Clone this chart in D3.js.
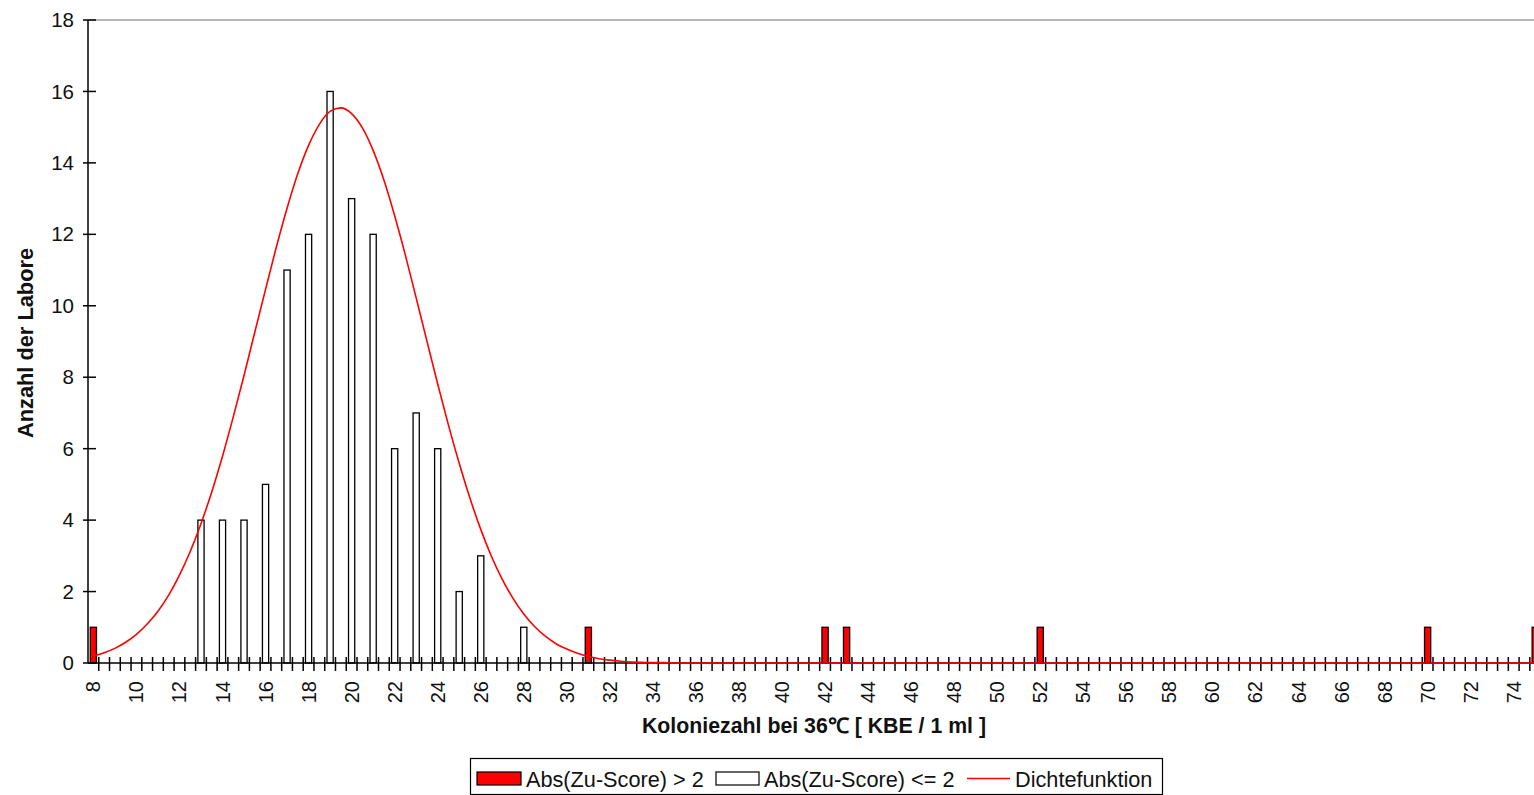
<!DOCTYPE html>
<html>
<head>
<meta charset="utf-8">
<script src="https://cdn.jsdelivr.net/npm/d3@7"></script>
<style>
  html, body { margin: 0; padding: 0; background: #fff; }
  svg { display: block; font-family: "Liberation Sans", Arial, sans-serif; }
</style>
</head>
<body>
<svg id="chart" width="1534" height="795"></svg>
<script>
// Laboratories with |z-score| <= 2 (white bars)
const okValues = [13, 14, 15, 16, 17, 18, 19, 20, 21, 22, 23, 24, 25, 26, 28];
const okCounts = [4, 4, 4, 5, 11, 12, 16, 13, 12, 6, 7, 6, 2, 3, 1];

// Laboratories with |z-score| > 2 (red bars)
const outValues = [8, 31, 42, 43, 52, 70, 75];
const outCounts = [1, 1, 1, 1, 1, 1, 1];

// Density curve, sampled every half unit
const densityX = [8, 8.5, 9, 9.5, 10, 10.5, 11, 11.5, 12, 12.5, 13, 13.5, 14, 14.5, 15, 15.5,
  16, 16.5, 17, 17.5, 18, 18.5, 19, 19.5, 20, 20.5, 21, 21.5, 22, 22.5, 23, 23.5, 24, 24.5,
  25, 25.5, 26, 26.5, 27, 27.5, 28, 28.5, 29, 29.5, 30, 30.5, 31, 31.5, 32, 32.5, 33, 33.5,
  34, 34.5, 35, 35.5, 36, 40, 50, 60, 70, 75];
const densityY = [0.20, 0.29, 0.41, 0.58, 0.80, 1.09, 1.45, 1.90, 2.46, 3.12, 3.90, 4.79, 5.79, 6.89, 8.05, 9.26,
  10.46, 11.64, 12.73, 13.70, 14.49, 15.08, 15.44, 15.54, 15.38, 14.98, 14.35, 13.52, 12.52, 11.41, 10.22, 9.01, 7.81, 6.66,
  5.59, 4.61, 3.74, 2.98, 2.34, 1.81, 1.37, 1.02, 0.75, 0.54, 0.39, 0.27, 0.18, 0.12, 0.08, 0.05, 0.03, 0.02,
  0.01, 0.01, 0.0, 0.0, 0.0, 0.0, 0.0, 0.0, 0.0, 0.0];

// Axis labels
const xTickLabels = [8, 10, 12, 14, 16, 18, 20, 22, 24, 26, 28, 30, 32, 34, 36, 38, 40, 42, 44, 46, 48,
  50, 52, 54, 56, 58, 60, 62, 64, 66, 68, 70, 72, 74];
const yTickLabels = [0, 2, 4, 6, 8, 10, 12, 14, 16, 18];

const xTitle = "Koloniezahl bei 36\u2103 [ KBE / 1 ml ]";
const yTitle = "Anzahl der Labore";
const legendLabels = ["Abs(Zu-Score) > 2", "Abs(Zu-Score) <= 2", "Dichtefunktion"];

const svg = d3.select("#chart");
const plot = { left: 88, top: 20, bottom: 663, right: 1540.6 };

const x = d3.scaleLinear().domain([7.75, 75.25]).range([plot.left, plot.right]);
const y = d3.scaleLinear().domain([0, 18]).range([plot.bottom, plot.top]);
const barW = 6.2;

// plot area top border
svg.append("line")
  .attr("x1", plot.left).attr("x2", 1534)
  .attr("y1", plot.top).attr("y2", plot.top)
  .attr("stroke", "#a0a0a0").attr("stroke-width", 1.5);

// bars
const okData = okValues.map((v, i) => ({ v, c: okCounts[i] }));
const outData = outValues.map((v, i) => ({ v, c: outCounts[i] }));

svg.append("g").selectAll("rect").data(okData).join("rect")
  .attr("x", d => x(d.v) - barW / 2)
  .attr("y", d => y(d.c))
  .attr("width", barW)
  .attr("height", d => y(0) - y(d.c))
  .attr("fill", "#fff").attr("stroke", "#000").attr("stroke-width", 1.3);

svg.append("g").selectAll("rect").data(outData).join("rect")
  .attr("x", d => x(d.v) - barW / 2)
  .attr("y", d => y(d.c))
  .attr("width", barW)
  .attr("height", d => y(0) - y(d.c))
  .attr("fill", "#ff0000").attr("stroke", "#000").attr("stroke-width", 1.3);

// y axis
const yAxis = d3.axisLeft(y).tickValues(yTickLabels).tickSize(0).tickPadding(14);
const yg = svg.append("g").attr("transform", `translate(${plot.left},0)`).call(yAxis);
yg.select(".domain").remove();
yg.selectAll("text").attr("font-size", 20.5).attr("fill", "#111").attr("font-family", null);
yg.append("line").attr("x1", 0).attr("x2", 0).attr("y1", plot.top).attr("y2", plot.bottom)
  .attr("stroke", "#000").attr("stroke-width", 1.5);
yg.selectAll(".tickmark").data(yTickLabels).join("line").attr("class", "tickmark")
  .attr("x1", -5).attr("x2", 8).attr("y1", d => y(d)).attr("y2", d => y(d))
  .attr("stroke", "#000").attr("stroke-width", 1.5);

// x axis: ticks on category boundaries every half unit, labels every 2 units
const xg = svg.append("g");
xg.append("line").attr("x1", plot.left).attr("x2", plot.right)
  .attr("y1", plot.bottom).attr("y2", plot.bottom)
  .attr("stroke", "#000").attr("stroke-width", 1.5);
const boundaries = d3.range(8.25, 75.3, 0.5);
xg.selectAll(".tickmark").data(boundaries).join("line").attr("class", "tickmark")
  .attr("x1", d => x(d)).attr("x2", d => x(d))
  .attr("y1", plot.bottom - 6).attr("y2", plot.bottom + 8)
  .attr("stroke", "#000").attr("stroke-width", 1.5);

// density curve
const line = d3.line()
  .x((d, i) => x(densityX[i]))
  .y(d => y(d))
  .curve(d3.curveMonotoneX);
svg.append("path").datum(densityY)
  .attr("d", line)
  .attr("fill", "none").attr("stroke", "#ff0000").attr("stroke-width", 1.6);

xg.selectAll(".ticklabel").data(xTickLabels).join("text").attr("class", "ticklabel")
  .attr("transform", d => `translate(${x(d) + 7},${plot.bottom + 18}) rotate(-90)`)
  .attr("text-anchor", "end")
  .attr("font-size", 20).attr("fill", "#111")
  .text(d => d);

// axis titles
svg.append("text")
  .attr("x", 814).attr("y", 733)
  .attr("text-anchor", "middle")
  .attr("font-size", 21.3).attr("font-weight", "bold").attr("fill", "#111")
  .text(xTitle);

svg.append("text")
  .attr("transform", "translate(33,343) rotate(-90)")
  .attr("text-anchor", "middle")
  .attr("font-size", 21.8).attr("font-weight", "bold").attr("fill", "#111")
  .text(yTitle);

// legend
const lg = svg.append("g");
lg.append("rect").attr("x", 470.5).attr("y", 758.5).attr("width", 692).attr("height", 36)
  .attr("fill", "#fff").attr("stroke", "#000").attr("stroke-width", 1.2);
lg.append("rect").attr("x", 477).attr("y", 772).attr("width", 44).attr("height", 13)
  .attr("fill", "#ff0000").attr("stroke", "#000").attr("stroke-width", 1.2);
lg.append("rect").attr("x", 716).attr("y", 772).attr("width", 43).attr("height", 13)
  .attr("fill", "#fff").attr("stroke", "#000").attr("stroke-width", 1.2);
lg.append("line").attr("x1", 967).attr("x2", 1010).attr("y1", 778.5).attr("y2", 778.5)
  .attr("stroke", "#ff0000").attr("stroke-width", 1.6);
const legendX = [526, 764, 1015];
lg.selectAll(".ltext").data(legendLabels).join("text").attr("class", "ltext")
  .attr("x", (d, i) => legendX[i]).attr("y", 787)
  .attr("font-size", 21.7).attr("fill", "#111")
  .text(d => d);
</script>
</body>
</html>
